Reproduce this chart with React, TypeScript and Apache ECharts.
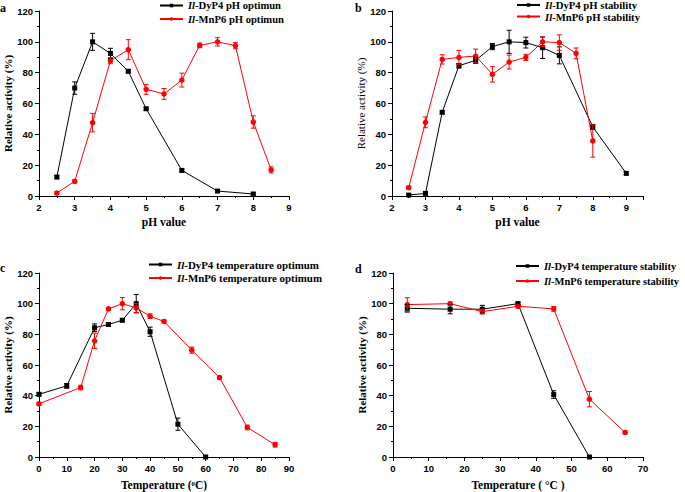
import React, { useEffect, useRef } from "react";
import * as echarts from "echarts";

// ---------- Panel a: pH optimum ----------
const aDypX = [2.5, 3, 3.5, 4, 4.5, 5, 6, 7, 8];
const aDypY = [12.3, 70, 100, 92.5, 80.9, 56.6, 16.6, 3.2, 1.3];
const aDypE = [1, 4, 5.5, 3.3, 1, 0.8, 0.8, 0.8, 0.8];
const aMnpX = [2.5, 3, 3.5, 4, 4.5, 5, 5.5, 6, 6.5, 7, 7.5, 8, 8.5];
const aMnpY = [1.9, 9.5, 47.6, 87.8, 94.9, 69.2, 66.2, 75.2, 97.7, 100, 97.5, 48, 16.9];
const aMnpE = [1, 1, 6, 2, 6.5, 3.2, 3.5, 4.5, 1.5, 2.7, 2, 4, 2];

// ---------- Panel b: pH stability ----------
const bDypX = [2.5, 3, 3.5, 4, 4.5, 5, 5.5, 6, 6.5, 7, 8, 9];
const bDypY = [0.6, 1.7, 54.3, 84.5, 88, 96.9, 100, 99.5, 96.2, 91.2, 44.8, 14.7];
const bDypE = [0.5, 1, 1, 1.5, 2, 2, 7.5, 3.5, 7, 5.5, 1.5, 1];
const bMnpX = [2.5, 3, 3.5, 4, 4.5, 5, 5.5, 6, 6.5, 7, 7.5, 8];
const bMnpY = [5.4, 47.8, 88.6, 89.9, 90.8, 78.9, 86.9, 89.9, 100, 99.5, 92.5, 35.7];
const bMnpE = [1, 3.5, 3, 4.5, 4.5, 5, 4.5, 2, 3, 5, 3.5, 10.5];

// ---------- Panel c: temperature optimum ----------
const cDypX = [0, 10, 20, 25, 30, 35, 40, 50, 60];
const cDypY = [40.9, 46.4, 84.3, 86.4, 89.2, 100, 81.7, 21.4, 0];
const cDypE = [1, 1.5, 2.5, 1, 1, 6, 3, 4, 0.5];
const cMnpX = [0, 15, 20, 25, 30, 35, 40, 45, 55, 65, 75, 85];
const cMnpY = [34.7, 45.3, 75.8, 96.6, 100, 97.2, 91.8, 88.4, 69.7, 51.8, 19.3, 8];
const cMnpE = [1, 1.5, 5, 1, 4, 3, 1.5, 1, 2, 1, 1.5, 1.5];

// ---------- Panel d: temperature stability ----------
const dDypX = [4, 16, 25, 35, 45, 55];
const dDypY = [97, 96.4, 96.4, 100, 40.7, 0];
const dDypE = [2.5, 3, 2.5, 1, 2.5, 0.5];
const dMnpX = [4, 16, 25, 35, 45, 55, 65];
const dMnpY = [99.4, 100, 94.8, 98.3, 96.6, 37.7, 16];
const dMnpE = [4.5, 1, 1.5, 1, 1.5, 5, 1];

// ---------- Names / labels ----------
const panelLetters = ["a", "b", "c", "d"];
const seriesNames = [
  ["Il-DyP4 pH optimun", "Il-MnP6 pH optimun"],
  ["Il-DyP4 pH stability", "Il-MnP6 pH stability"],
  ["Il-DyP4 temperature optimum", "Il-MnP6 temperature optimum"],
  ["Il-DyP4 temperature stability", "Il-MnP6 temperature stability"],
];
const xNames = ["pH value", "pH value", "Temperature (\u1d52C)", "Temperature ( \u00b0C )"];
const yName = "Relative activity (%)";

const SERIF = "Liberation Serif";
const SANS = "Liberation Sans";
const BLACK = "#000000";
const RED = "#ff0000";

function zip(xs: number[], ys: number[]) {
  return xs.map((x, i) => [x, ys[i]]);
}
function zip3(xs: number[], ys: number[], es: number[]) {
  return xs.map((x, i) => [x, ys[i], es[i]]);
}

function lineSeries(name: string, idx: number, xs: number[], ys: number[], color: string, symbol: string, size: number) {
  return {
    type: "line",
    name,
    xAxisIndex: idx,
    yAxisIndex: idx,
    data: zip(xs, ys),
    symbol,
    symbolSize: size,
    showAllSymbol: true,
    lineStyle: { color, width: 1 },
    itemStyle: { color },
    z: 3,
  };
}

function errSeries(idx: number, xs: number[], ys: number[], es: number[], color: string) {
  return {
    type: "custom",
    xAxisIndex: idx,
    yAxisIndex: idx,
    data: zip3(xs, ys, es),
    encode: { x: 0, y: 1 },
    z: 4,
    silent: true,
    renderItem: (params: any, api: any) => {
      const x = api.value(0);
      const y = api.value(1);
      const e = api.value(2);
      const t = api.coord([x, y + e]);
      const b = api.coord([x, y - e]);
      const hw = 2.5;
      const st = { stroke: color, lineWidth: 1 };
      return {
        type: "group",
        children: [
          { type: "line", shape: { x1: t[0], y1: t[1], x2: b[0], y2: b[1] }, style: st },
          { type: "line", shape: { x1: t[0] - hw, y1: t[1], x2: t[0] + hw, y2: t[1] }, style: st },
          { type: "line", shape: { x1: b[0] - hw, y1: b[1], x2: b[0] + hw, y2: b[1] }, style: st },
        ],
      };
    },
  };
}

const grids = [
  { left: 39, top: 11, width: 250, height: 185 },
  { left: 392, top: 11, width: 251, height: 185 },
  { left: 39, top: 273, width: 250, height: 184 },
  { left: 393, top: 273, width: 250, height: 184 },
];

const xRanges = [
  { min: 2, max: 9, interval: 1 },
  { min: 2, max: 9.5, interval: 1 },
  { min: 0, max: 90, interval: 10 },
  { min: 0, max: 70, interval: 10 },
];

const legendPos = [
  { left: 159, top: 0, gap: 2.5, fs: 10.6 },
  { left: 516, top: -0.5, gap: 0.5, fs: 10.7 },
  { left: 148, top: 259, gap: 2.5, fs: 10.9 },
  { left: 515, top: 260.5, gap: 4, fs: 10.5 },
];

const letterPos = [
  [0, 9],
  [355, 9],
  [0, 269],
  [355, 270],
];

function axisBase() {
  return {
    axisLine: { show: true, onZero: false, lineStyle: { color: BLACK, width: 1 } },
    axisTick: { show: true, length: 4, lineStyle: { color: BLACK, width: 1 } },
    minorTick: { show: true, splitNumber: 2, length: 2, lineStyle: { color: BLACK, width: 1 } },
    splitLine: { show: false },
    axisLabel: { color: BLACK, fontFamily: SANS, fontWeight: "bold", fontSize: 9.5, margin: 6 },
    nameLocation: "middle",
  };
}

export default function App() {
  const ref = useRef<HTMLDivElement>(null);
  useEffect(() => {
    document.body.style.margin = "0";
    if (!ref.current) return;
    const chart = echarts.init(ref.current, null, { renderer: "svg" });

    const xAxis = xRanges.map((r, i) => {
      const base: any = axisBase();
      return {
        ...base,
        type: "value",
        gridIndex: i,
        min: r.min,
        max: r.max,
        interval: r.interval,
        name: xNames[i],
        nameGap: i < 2 ? 20 : 22,
        nameTextStyle: { color: BLACK, fontFamily: SERIF, fontWeight: "bold", fontSize: 11.5 },
        axisLabel: { ...base.axisLabel, showMaxLabel: i === 1 ? false : true },
      };
    });

    const yAxis = grids.map((g, i) => {
      const base: any = axisBase();
      return {
        ...base,
        type: "value",
        gridIndex: i,
        min: 0,
        max: 120,
        interval: 20,
        name: yName,
        nameGap: 25,
        nameRotate: 90,
        nameTextStyle: {
          color: BLACK,
          fontFamily: SERIF,
          fontWeight: i === 1 ? "normal" : "bold",
          fontSize: 11,
        },
      };
    });

    const sets = [
      [aDypX, aDypY, aDypE, aMnpX, aMnpY, aMnpE],
      [bDypX, bDypY, bDypE, bMnpX, bMnpY, bMnpE],
      [cDypX, cDypY, cDypE, cMnpX, cMnpY, cMnpE],
      [dDypX, dDypY, dDypE, dMnpX, dMnpY, dMnpE],
    ];

    const series: any[] = [];
    sets.forEach((s, i) => {
      series.push(lineSeries(seriesNames[i][0], i, s[0], s[1], BLACK, "rect", 5));
      series.push(lineSeries(seriesNames[i][1], i, s[3], s[4], RED, "circle", 5.5));
      series.push(errSeries(i, s[0], s[1], s[2], BLACK));
      series.push(errSeries(i, s[3], s[4], s[5], RED));
    });

    const legend = legendPos.map((p, i) => ({
      orient: "vertical",
      left: p.left,
      top: p.top,
      padding: 0,
      itemGap: p.gap,
      itemWidth: 23,
      itemHeight: 4.5,
      data: seriesNames[i],
      selectedMode: false,
      formatter: (name: string) => `{i|Il}{n|${name.slice(2)}}`,
      textStyle: {
        color: BLACK,
        fontFamily: SERIF,
        fontWeight: "bold",
        fontSize: p.fs,
        rich: {
          i: { fontFamily: SERIF, fontWeight: "bold", fontStyle: "italic", fontSize: p.fs, color: BLACK },
          n: { fontFamily: SERIF, fontWeight: "bold", fontSize: p.fs, color: BLACK },
        },
      },
    }));

    const graphic = panelLetters.map((l, i) => ({
      type: "text",
      left: letterPos[i][0],
      top: letterPos[i][1] - 7,
      style: {
        text: l,
        fill: BLACK,
        fontFamily: SERIF,
        fontWeight: "bold",
        fontSize: 12,
      },
    }));

    chart.setOption({
      animation: false,
      backgroundColor: "#ffffff",
      grid: grids,
      xAxis,
      yAxis,
      legend,
      graphic,
      series,
    });
    return () => chart.dispose();
  }, []);
  return <div ref={ref} style={{ width: 685, height: 492 }} />;
}
